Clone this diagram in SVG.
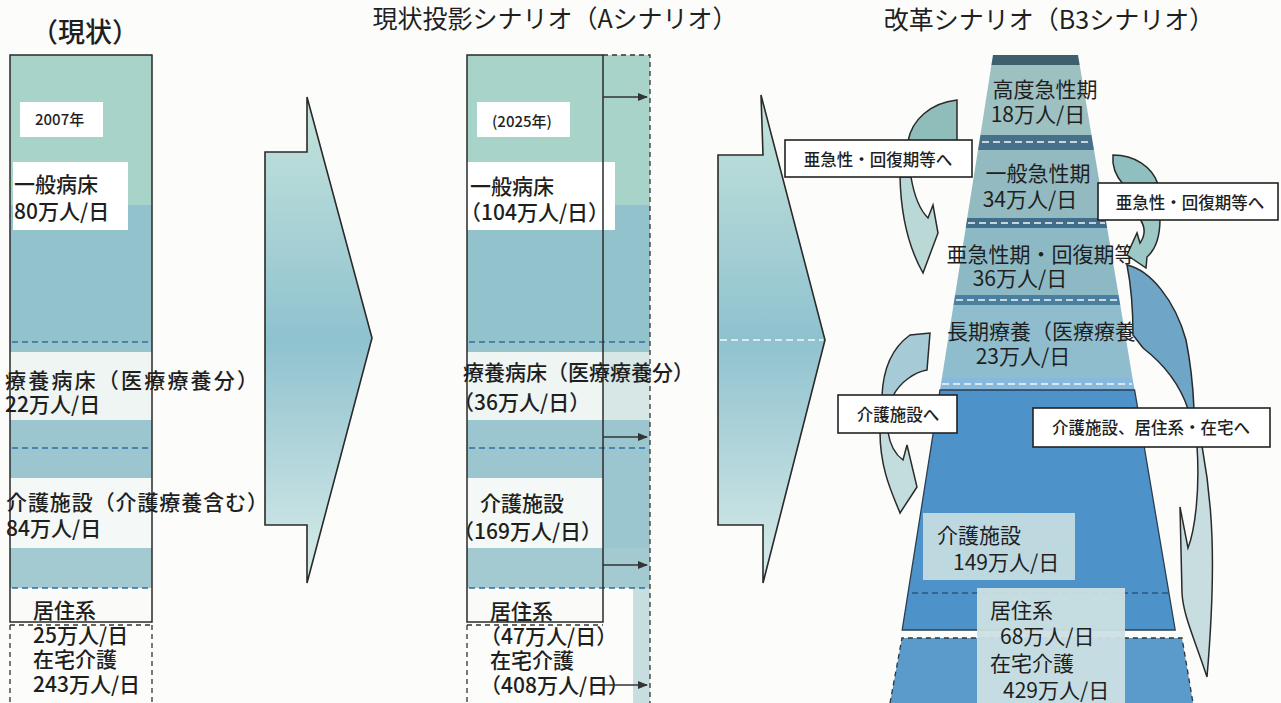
<svg xmlns="http://www.w3.org/2000/svg" width="1281" height="703" viewBox="0 0 1281 703">
<defs>
<style>
.t{font-family:"Noto Sans CJK JP","Noto Sans",sans-serif;fill:#1f1f1f;font-weight:500}
.r{font-weight:400}
.ttl{font-size:25px;font-weight:400}
.lbl{font-size:21px}
.sm{font-size:15px}
.bx{font-size:16.5px}
.box{fill:#fff;stroke:#222;stroke-width:1.6}
.solid{fill:none;stroke:#2a2a2a;stroke-width:1.5}
.dash{fill:none;stroke:#333;stroke-width:1.3;stroke-dasharray:5 4}
.bdash{fill:none;stroke:#2f6f9f;stroke-width:1.6;stroke-dasharray:6 4}
.wdash{fill:none;stroke:#f4f8f8;stroke-width:1.6;stroke-dasharray:7 4}
.ddash{fill:none;stroke:#2b5680;stroke-width:1.5;stroke-dasharray:6 4}
.big{stroke:#2a2a2a;stroke-width:1.6;fill:url(#bigGrad)}
.cv{stroke:#2a2a2a;stroke-width:1.5}
.sa{stroke:#333;stroke-width:1.6;fill:none;marker-end:url(#ah)}
</style>
<linearGradient id="bigGrad" x1="0" y1="0" x2="0" y2="1">
<stop offset="0" stop-color="#c6e4dc"/>
<stop offset="0.5" stop-color="#8fc2cf"/>
<stop offset="1" stop-color="#d9ece9"/>
</linearGradient>
<marker id="ah" markerWidth="10" markerHeight="8" refX="9" refY="4" orient="auto" markerUnits="userSpaceOnUse">
<path d="M0,0 L10,4 L0,8 Z" fill="#333"/>
</marker>
</defs>
<rect x="0" y="0" width="1281" height="703" fill="#fcfcfa"/>

<!-- titles -->
<g id="titles">
<text class="t" x="85" y="42" text-anchor="middle" font-size="27">（現状）</text>
<text class="t ttl" x="555" y="28" text-anchor="middle">現状投影シナリオ（Aシナリオ）</text>
<text class="t ttl" x="1049" y="29" text-anchor="middle">改革シナリオ（B3シナリオ）</text>
</g>

<!-- current -->
<g id="genjo">
<rect x="10" y="55" width="142" height="150" fill="#a8d3c9"/>
<rect x="10" y="205" width="142" height="137" fill="#92c3cc"/>
<rect x="10" y="342" width="142" height="10" fill="#98c4cd"/>
<rect x="10" y="352" width="142" height="68" fill="#eef5f3"/>
<rect x="10" y="420" width="142" height="58" fill="#9cc6cf"/>
<rect x="10" y="478" width="142" height="70" fill="#f4f8f6"/>
<rect x="10" y="548" width="142" height="40" fill="#a3cad1"/>
<rect x="10" y="588" width="142" height="34" fill="#fafbf9"/>
<rect x="20" y="102" width="83" height="35" fill="#fff"/>
<rect x="13" y="162" width="115" height="68" fill="#fff"/>
<path class="bdash" d="M12,342 H150 M12,448 H150 M12,588 H150"/>
<rect class="solid" x="10" y="55" width="142" height="567"/>
<path class="dash" d="M10,625 H152 M10,625 V703 M152,625 V703"/>
<text class="t sm" x="35" y="125">2007年</text>
<text class="t lbl" x="14" y="192" font-size="22">一般病床</text>
<text class="t lbl" x="14" y="219" font-size="22">80万人/日</text>
<text class="t lbl" x="5" y="388" textLength="253" lengthAdjust="spacing">療養病床（医療療養分）</text>
<text class="t lbl" x="5" y="412">22万人/日</text>
<text class="t lbl" x="6" y="510" textLength="262" lengthAdjust="spacing">介護施設（介護療養含む）</text>
<text class="t lbl" x="6" y="536">84万人/日</text>
<text class="t lbl" x="33" y="618">居住系</text>
<text class="t lbl" x="33" y="643">25万人/日</text>
<text class="t lbl" x="33" y="667">在宅介護</text>
<text class="t lbl" x="33" y="692">243万人/日</text>
</g>

<!-- scenario A -->
<g id="scenarioA">
<rect x="467" y="55" width="183" height="150" fill="#a8d3c9"/>
<rect x="467" y="205" width="183" height="137" fill="#92c3cc"/>
<rect x="467" y="342" width="183" height="10" fill="#98c4cd"/>
<rect x="467" y="352" width="136" height="68" fill="#eef5f3"/>
<rect x="603" y="352" width="47" height="68" fill="#d6e7e6"/>
<rect x="467" y="420" width="183" height="58" fill="#9cc6cf"/>
<rect x="467" y="478" width="136" height="70" fill="#f4f8f6"/>
<rect x="603" y="478" width="47" height="70" fill="#9cc6cf"/>
<rect x="467" y="548" width="183" height="40" fill="#a3cad1"/>
<rect x="467" y="588" width="136" height="34" fill="#fafbf9"/>
<rect x="633" y="588" width="17" height="115" fill="#c6dedf"/>
<rect x="477" y="102" width="93" height="35" fill="#fff"/>
<rect x="467" y="162" width="148" height="68" fill="#fff"/>
<path class="bdash" d="M469,342 H648 M469,448 H648 M469,588 H648"/>
<rect class="solid" x="467" y="55" width="136" height="567"/>
<path class="dash" d="M603,55 H650 V703 M467,625 V703 M467,625 H603"/>
<text class="t sm" x="492" y="127">(2025年)</text>
<text class="t lbl" x="470" y="194" font-size="22">一般病床</text>
<text class="t lbl" x="460" y="220" font-size="22">（104万人/日）</text>
<text class="t lbl" x="463" y="380">療養病床（医療療養分）</text>
<text class="t lbl" x="453" y="410">（36万人/日）</text>
<text class="t lbl" x="480" y="511">介護施設</text>
<text class="t lbl" x="453" y="539">（169万人/日）</text>
<text class="t lbl" x="490" y="619">居住系</text>
<text class="t lbl" x="480" y="644">（47万人/日）</text>
<text class="t lbl" x="490" y="668">在宅介護</text>
<text class="t lbl" x="480" y="693">（408万人/日）</text>
</g>

<!-- scenario B3 pyramid -->
<g id="scenarioB3">
<polygon points="993,55 1078,55 1079.7,65 991.4,65" fill="#3e5f6e"/>
<polygon points="991.4,65 1079.7,65 1091.5,135 980.4,135" fill="#9dc0c1"/>
<polygon points="980.4,135 1091.5,135 1094,150 978,150" fill="#47708a"/>
<polygon points="978,150 1094,150 1105.5,218 967.2,218" fill="#93bac0"/>
<polygon points="967.2,218 1105.5,218 1107.2,228 965.7,228" fill="#3f6d8a"/>
<polygon points="965.7,228 1107.2,228 1118.6,295 955.1,295" fill="#8db9c5"/>
<polygon points="955.1,295 1118.6,295 1120.3,305 953.5,305" fill="#4a7fa0"/>
<polygon points="953.5,305 1120.3,305 1132.5,378 941.9,378" fill="#90bdcd"/>
<polygon points="941.9,378 1132.5,378 1134.6,390 940,390" fill="#86b9db"/>
<polygon points="940,390 1134.6,390 1175.2,630 902.2,630" fill="#4d93c9" stroke="#2a3e52" stroke-width="1.3"/>
<path class="wdash" d="M982,142 H1092 M968,223 H1105 M956,300 H1118 M942,384 H1132"/>
<path class="ddash" d="M912,593 H1168"/>
<path d="M902,638 L1182,638 L1193,703 L890,703 Z" fill="#5b9bcc"/>
<path class="dash" d="M890,703 L902,638 L1182,638 L1193,703"/>
<rect x="923" y="513" width="152" height="67" fill="#c8dde2" opacity="0.92"/>
<rect x="977" y="588" width="148" height="115" fill="#cbdfe3" opacity="0.95"/>
<text class="t lbl r" x="1045" y="97" text-anchor="middle">高度急性期</text>
<text class="t lbl r" x="1038" y="122" text-anchor="middle">18万人/日</text>
<text class="t lbl r" x="1038" y="181" text-anchor="middle">一般急性期</text>
<text class="t lbl r" x="1030" y="207" text-anchor="middle">34万人/日</text>
<text class="t lbl r" x="1041" y="262" text-anchor="middle">亜急性期・回復期等</text>
<text class="t lbl r" x="1020" y="286" text-anchor="middle">36万人/日</text>
<text class="t lbl r" x="947" y="339">長期療養（医療療養</text>
<text class="t lbl r" x="1023" y="364" text-anchor="middle">23万人/日</text>
<text class="t lbl r" x="937" y="543">介護施設</text>
<text class="t lbl r" x="953" y="570">149万人/日</text>
<text class="t lbl r" x="990" y="618">居住系</text>
<text class="t lbl r" x="1000" y="644">68万人/日</text>
<text class="t lbl r" x="990" y="671">在宅介護</text>
<text class="t lbl r" x="1003" y="698">429万人/日</text>
</g>

<!-- connectors -->
<g id="connectors">
<path class="big" d="M307,97 L372,338 L307,583 L307,525 L265,525 L265,152 L307,152 Z"/>
<path class="big" d="M761,95 L825,340 L763,583 L763,525 L718,525 L718,155 L763,155 Z"/>
<path class="wdash" d="M720,340 H823"/>
<path class="sa" d="M603,97 H647"/>
<path class="sa" d="M603,437 H647"/>
<path class="sa" d="M603,565 H647"/>
<path class="sa" d="M600,685 H647"/>
<!-- curved arrow 1 -->
<path class="cv" fill="#8fbdb9" d="M957,100 L957,141 L908,141 C912,120 930,103 957,100 Z"/>
<path class="cv" fill="#b9d8d6" d="M900,177 L911,177 C914,195 920,210 928,218 L933,205 L938,233 L923,273 C910,250 901,220 900,177 Z"/>
<!-- curved arrow 2 -->
<path class="cv" fill="#8fbfbf" d="M1113,155 C1135,155 1152,167 1158,184 L1123,184 C1115,175 1112,165 1113,155 Z"/>
<path class="cv" fill="#9cc8c6" d="M1140,219 L1160,219 C1160,238 1155,250 1147,257 L1146,268 L1127,255 L1137,233 L1140,243 C1145,236 1146,228 1140,219 Z"/>
<!-- curved arrow 3 -->
<path class="cv" fill="#a6cad6" d="M910,335 L930,333 L927,370 C915,372 900,382 893,396 L882,396 C883,370 892,348 910,335 Z"/>
<path class="cv" fill="#c3dcde" d="M880,432 L888,432 C890,445 896,455 903,460 L907,445 L917,487 L900,513 C893,495 880,470 880,432 Z"/>
<!-- curved arrow 4 -->
<path class="cv" fill="#6fa5c6" d="M1127,265 C1150,270 1175,300 1186,340 C1190,360 1193,385 1194,409 L1188,409 C1180,385 1165,365 1143,348 L1133,335 C1133,310 1131,285 1127,265 Z"/>
<path class="cv" fill="#c8dde0" d="M1197,446 L1202,446 C1212,500 1217,560 1207,677 C1195,640 1183,615 1182,593 L1180,507 L1188,548 C1195,530 1200,490 1197,446 Z"/>
</g>

<!-- labels -->
<g id="label1"><rect class="box" x="785" y="140" width="187" height="37"/><text class="t bx" x="878" y="166" text-anchor="middle">亜急性・回復期等へ</text></g>
<g id="label2"><rect class="box" x="1098" y="183" width="180" height="37"/><text class="t bx" x="1190" y="209" text-anchor="middle">亜急性・回復期等へ</text></g>
<g id="label3"><rect class="box" x="838" y="395" width="119" height="38"/><text class="t bx" x="898" y="421" text-anchor="middle">介護施設へ</text></g>
<g id="label4"><rect class="box" x="1033" y="408" width="237" height="39"/><text class="t bx" x="1151" y="434" text-anchor="middle">介護施設、居住系・在宅へ</text></g>
</svg>
